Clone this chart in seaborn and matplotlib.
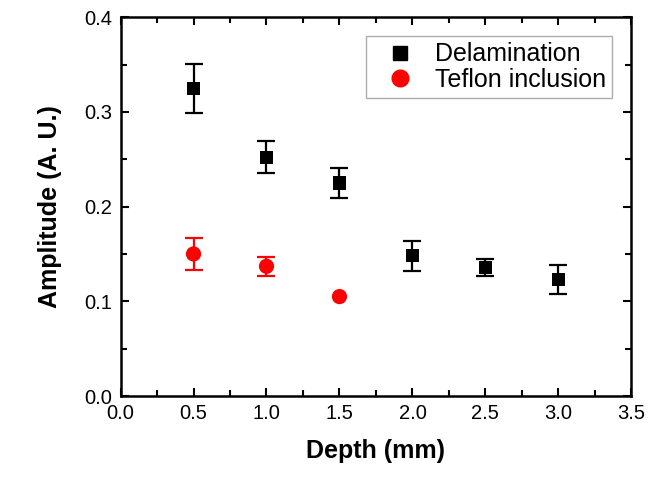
import matplotlib
matplotlib.use("Agg")
import matplotlib.pyplot as plt
import seaborn as sns
import pandas as pd
import numpy as np
from matplotlib.ticker import MultipleLocator
from matplotlib.lines import Line2D

# data
depth_del = [0.5, 1.0, 1.5, 2.0, 2.5, 3.0]
amp_del = [0.325, 0.252, 0.225, 0.148, 0.136, 0.123]
err_del = [0.026, 0.017, 0.016, 0.016, 0.009, 0.015]

depth_tef = [0.5, 1.0, 1.5]
amp_tef = [0.150, 0.137, 0.105]
err_tef = [0.017, 0.010, np.nan]  # bar hidden by marker at 1.5

sns.set_style("ticks")
plt.rcParams['font.family'] = ['Liberation Sans', 'DejaVu Sans']
plt.rcParams['text.color'] = 'black'
plt.rcParams['axes.labelcolor'] = 'black'
plt.rcParams['xtick.color'] = 'black'
plt.rcParams['ytick.color'] = 'black'
plt.rcParams['axes.edgecolor'] = 'black'

df_del = pd.DataFrame({"depth": depth_del, "amp": amp_del})
df_tef = pd.DataFrame({"depth": depth_tef, "amp": amp_tef})

fig = plt.figure(figsize=(6.66, 4.78), dpi=100)
ax = fig.add_axes([0.181, 0.1715, 0.767, 0.7925])

# error bars first, markers on top
ax.errorbar(depth_del, amp_del, yerr=err_del, fmt="none", ecolor="black",
            elinewidth=1.6, capsize=6.5, capthick=1.6, zorder=2)
ax.errorbar(depth_tef, amp_tef, yerr=err_tef, fmt="none", ecolor="red",
            elinewidth=1.6, capsize=6.5, capthick=1.6, zorder=2)

sns.scatterplot(data=df_del, x="depth", y="amp", marker="s", color="black",
                s=90, edgecolor="none", ax=ax, zorder=3)
sns.scatterplot(data=df_tef, x="depth", y="amp", marker="o", color="red",
                s=120, edgecolor="none", ax=ax, zorder=3)

handles = [
    Line2D([], [], marker="s", color="black", linestyle="none", markersize=10),
    Line2D([], [], marker="o", color="red", linestyle="none", markersize=12),
]
leg = ax.legend(handles, ["Delamination", "Teflon inclusion"], loc="upper right",
                bbox_to_anchor=(0.962, 0.95), fontsize=18, frameon=True,
                fancybox=False, edgecolor="#999999", handletextpad=0.3,
                borderpad=0.25, labelspacing=0.05, handlelength=2.2,
                borderaxespad=0)
leg.get_frame().set_linewidth(1.0)

ax.set_xlim(0, 3.5)
ax.set_ylim(0, 0.4)
ax.xaxis.set_major_locator(MultipleLocator(0.5))
ax.xaxis.set_minor_locator(MultipleLocator(0.25))
ax.yaxis.set_major_locator(MultipleLocator(0.1))
ax.yaxis.set_minor_locator(MultipleLocator(0.05))
ax.tick_params(which="both", direction="in", top=True, right=True,
               width=1.5, labelsize=14.5)
ax.tick_params(which="major", length=6, pad=6)
ax.tick_params(which="minor", length=4)
for sp in ax.spines.values():
    sp.set_linewidth(1.8)
    sp.set_visible(True)

ax.set_xlabel("Depth (mm)", fontsize=18, fontweight="bold", labelpad=11)
ax.set_ylabel("Amplitude (A. U.)", fontsize=18, fontweight="bold", labelpad=16)

fig.savefig("out.png", dpi=100)
